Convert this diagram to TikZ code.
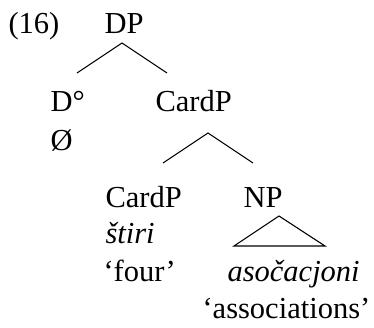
\documentclass[tikz,border=0pt]{standalone}
\usepackage{fontspec}
\setmainfont{Liberation Serif}
\begin{document}
\begin{tikzpicture}[x=1pt,y=1pt,line width=1.1pt,
    lab/.style={anchor=base west,inner sep=0pt,font=\fontsize{30.5}{34}\selectfont}]
			\useasboundingbox (0,0) rectangle (374,327);
			\node[lab] (num) at (8,293) {(16)};
			\node[lab] (dp) at (104,293) {DP};
			\node[lab] (d) at (50,215) {D°};
			\node[lab] (cardp) at (155,215) {CardP};
			\node[lab] (empty) at (50,177) {Ø};
			\node[lab] (card) at (105,120) {CardP};
			\node[lab] (np) at (243,120) {NP};
			\node[lab] (stiri) at (105,84) {\itshape štiri};
			\node[lab] (four) at (103,46) {‘four’};
			\node[lab] (asoc) at (227,46) {\itshape asočacjoni};
			\node[lab] (assoc) at (202,9) {‘associations’};
			\coordinate (A) at (122,284);
            \coordinate (B) at (77,254);
            \coordinate (C) at (167,254);
			\coordinate (E) at (208,194);
            \coordinate (F) at (163,164);
            \coordinate (G) at (253,164);
			\coordinate (H) at (279,111);
            \coordinate (I) at (234,81);
            \coordinate (J) at (325,81);
			\draw (B) -- (A) -- (C);
			\draw (F) -- (E) -- (G);
            \draw (H) -- (I) -- (J) -- cycle; % NP triangle
		\end{tikzpicture}
\end{document}
